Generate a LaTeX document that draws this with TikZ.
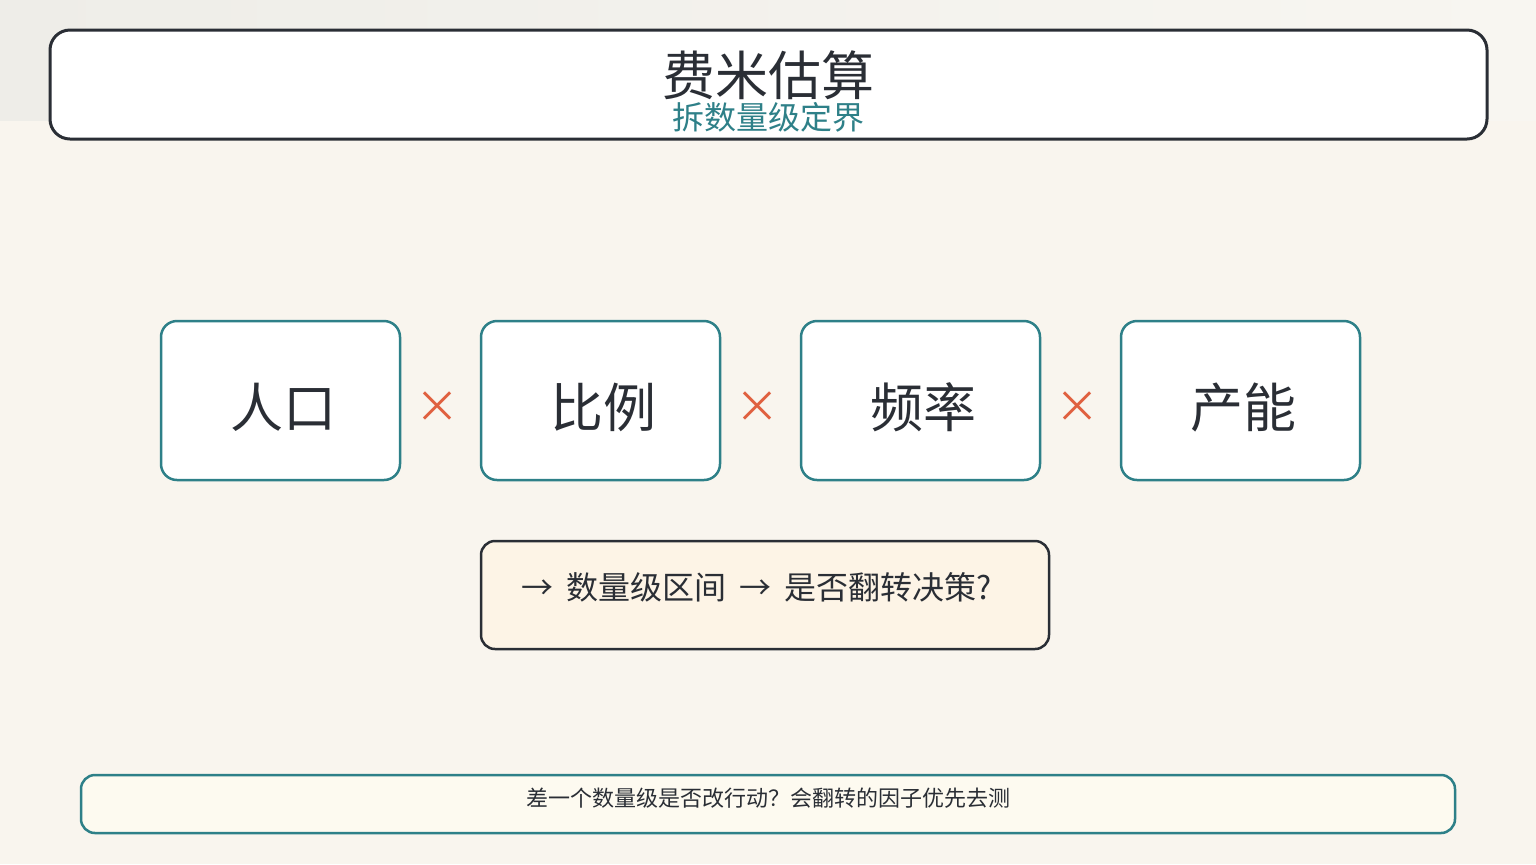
\documentclass[tikz,border=0pt]{standalone}
\usepackage{fontspec}
\setmainfont{Noto Sans CJK SC}
\definecolor{paper}{HTML}{F9F5EE}
\definecolor{bandl}{HTML}{EEEDE8}
\definecolor{bandr}{HTML}{F8F6F1}
\definecolor{ink}{HTML}{2A2E35}
\definecolor{teal}{HTML}{2E8088}
\definecolor{cross}{HTML}{E0603F}
\definecolor{cream}{HTML}{FDF4E6}
\definecolor{note}{HTML}{FDFAF0}
\begin{document}
\begin{tikzpicture}[x=0.5pt,y=-0.5pt,
    titlebox/.style={draw=ink,line width=1.5pt,fill=white,rounded corners=10pt,
      minimum width=718.5pt,minimum height=54.5pt},
    factor/.style={draw=teal,line width=1.25pt,fill=white,rounded corners=8pt,
      minimum width=119.5pt,minimum height=79.5pt},
    factortext/.style={text=ink,font=\fontsize{26.5}{30}\selectfont},
    times/.style={text=cross,font=\fontsize{22}{24}\selectfont},
    result/.style={draw=ink,line width=1.25pt,fill=cream,rounded corners=7pt,
      minimum width=284pt,minimum height=54pt},
    notebox/.style={draw=teal,line width=1.25pt,fill=note,rounded corners=7pt,
      minimum width=687pt,minimum height=29pt}]
  \useasboundingbox (0,0) rectangle (1536,864);
  \fill[paper] (0,0) rectangle (1536,864);
  \shade[left color=bandl,right color=bandr] (0,0) rectangle (1536,120);
  \node[titlebox] (head) at (768.5,84.5) {};
  \node[text=ink,font=\fontsize{26.5}{30}\selectfont] (title) at (768,75) {费米估算};
  \node[text=teal,font=\fontsize{16}{18}\selectfont] (sub) at (768,117) {拆数量级定界};
  \draw
    (280.5,400.5) node[factor] (pop){}
    (600.5,400.5) node[factor] (ratio){}
    (920.5,400.5) node[factor] (freq){}
    (1240.5,400.5) node[factor] (cap){};
  \begin{scope}[every node/.style={factortext}]
    \node (poptext) at (283,407) {人口};
    \node (ratiotext) at (603,407) {比例};
    \node (freqtext) at (923,407) {频率};
    \node (captext) at (1243,407) {产能};
  \end{scope}
  \begin{scope}[every node/.style={times}]
    \node (x1) at (437,407) {×};
    \node (x2) at (757,407) {×};
    \node (x3) at (1077,407) {×};
  \end{scope}
  \node[result] (range) at (765,595) {};
  \node[anchor=west,text=ink,font=\fontsize{16}{18}\selectfont] (rangetext) at (514,587)
    {→\hspace{6.5pt}数量级区间\hspace{6.5pt}→\hspace{6.5pt}是否翻转决策?};
  \node[notebox] (tip) at (768,804) {};
  \node[text=ink,font=\fontsize{11}{12}\selectfont] (tiptext) at (768,798)
    {差一个数量级是否改行动？会翻转的因子优先去测};
\end{tikzpicture}
\end{document}
